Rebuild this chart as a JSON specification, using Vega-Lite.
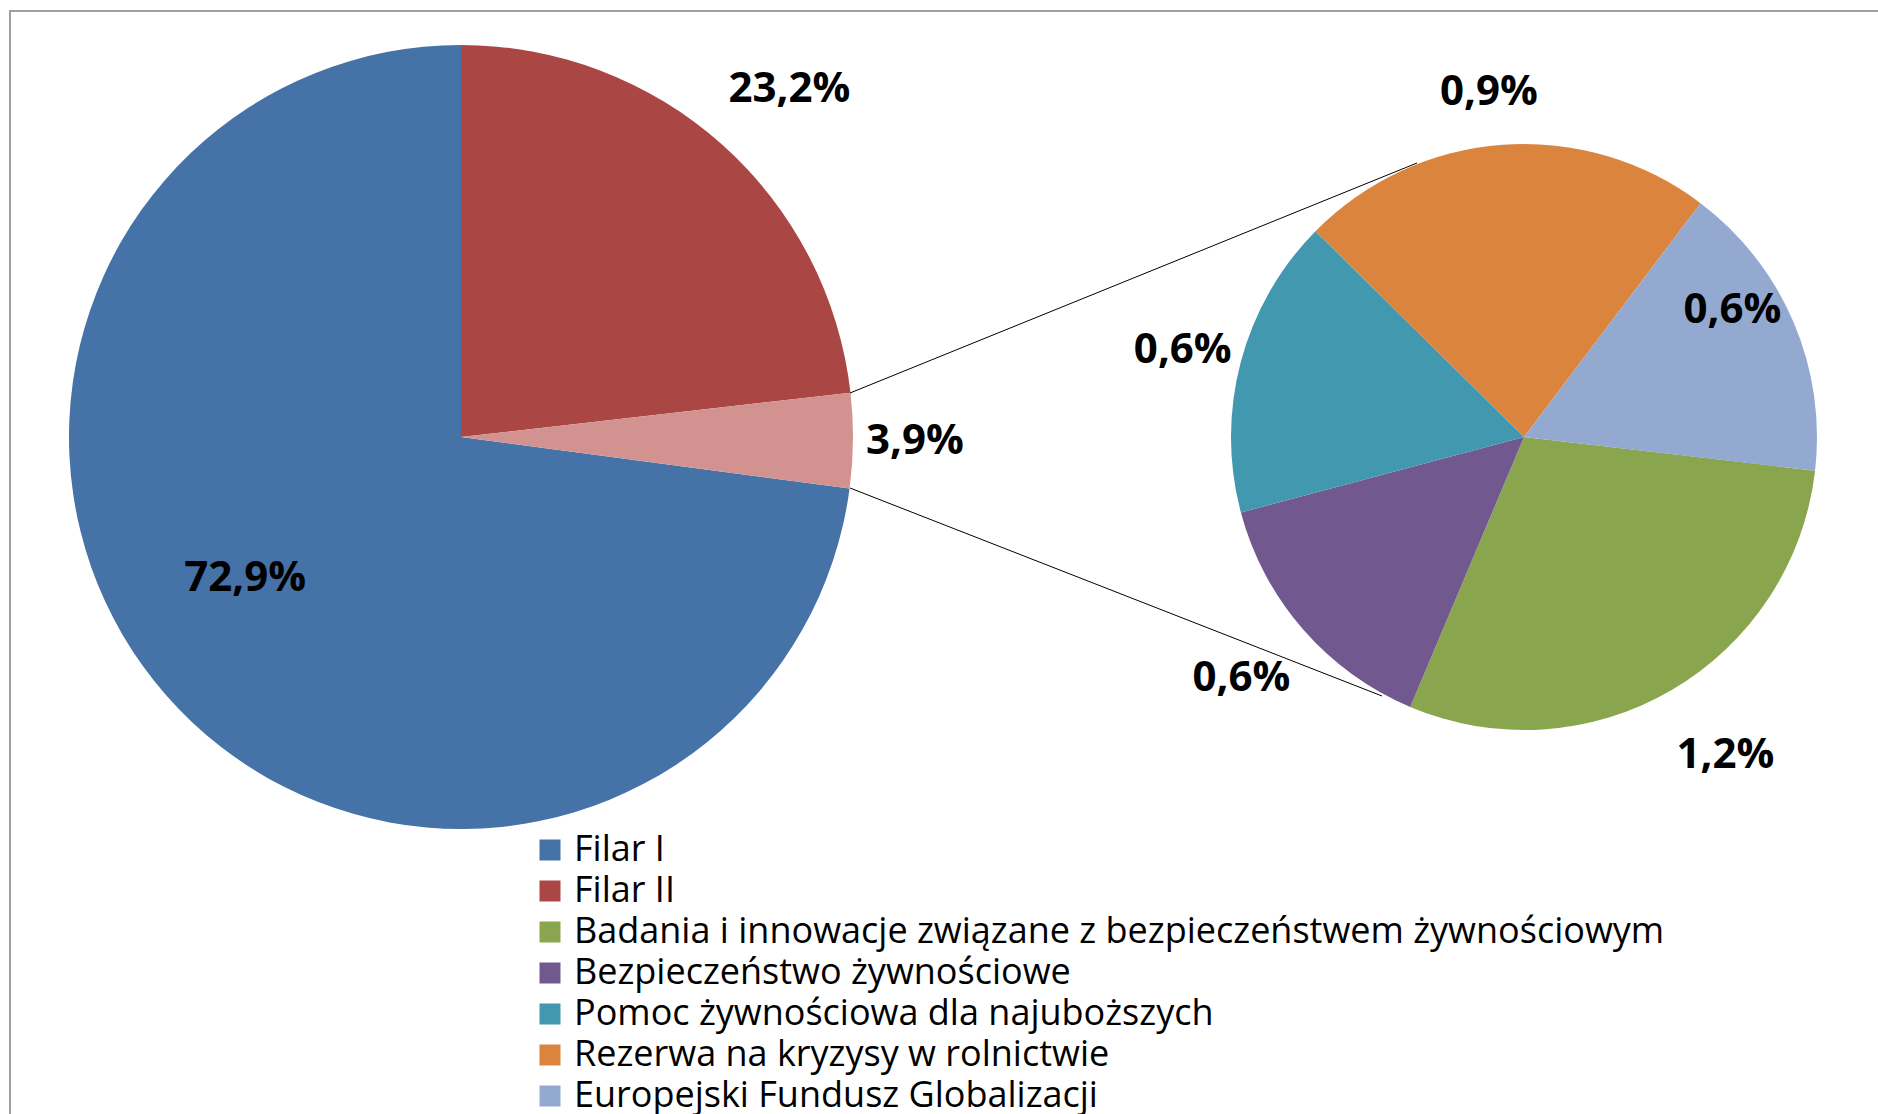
{
  "$schema": "https://vega.github.io/schema/vega-lite/v6.json",
  "width": 1872,
  "height": 1107,
  "autosize": {"type": "none"},
  "padding": {"left": 10, "top": 11, "right": -4, "bottom": -4},
  "background": "white",
  "config": {
    "view": {"stroke": "#a0a0a0", "strokeWidth": 2},
    "text": {"font": "Open Sans", "fontWeight": "bold", "fontSize": 42, "fill": "black"}
  },
  "datasets": {
    "udzialy": [
      {"wykres": "główny", "kategoria": "Filar I", "udzial": 72.9, "etykieta": "72,9%", "kolejnosc": 3},
      {"wykres": "główny", "kategoria": "Filar II", "udzial": 23.2, "etykieta": "23,2%", "kolejnosc": 1},
      {"wykres": "główny", "kategoria": "Pozostałe", "udzial": 3.9, "etykieta": "3,9%", "kolejnosc": 2},
      {"wykres": "pomocniczy", "kategoria": "Badania i innowacje związane z bezpieczeństwem żywnościowym", "udzial": 1.16, "etykieta": "1,2%", "kolejnosc": 1},
      {"wykres": "pomocniczy", "kategoria": "Bezpieczeństwo żywnościowe", "udzial": 0.57, "etykieta": "0,6%", "kolejnosc": 2},
      {"wykres": "pomocniczy", "kategoria": "Pomoc żywnościowa dla najuboższych", "udzial": 0.65, "etykieta": "0,6%", "kolejnosc": 3},
      {"wykres": "pomocniczy", "kategoria": "Rezerwa na kryzysy w rolnictwie", "udzial": 0.90, "etykieta": "0,9%", "kolejnosc": 4},
      {"wykres": "pomocniczy", "kategoria": "Europejski Fundusz Globalizacji", "udzial": 0.65, "etykieta": "0,6%", "kolejnosc": 5}
    ]
  },
  "layer": [
    {
      "data": {"name": "udzialy"},
      "encoding": {
        "x": {"field": "wykres", "type": "nominal", "scale": {"type": "point", "domain": ["główny", "pomocniczy"], "range": [451, 1514], "padding": 0}, "axis": null},
        "y": {"field": "wykres", "type": "nominal", "scale": {"type": "point", "domain": ["główny", "pomocniczy"], "range": [426, 426], "padding": 0}, "axis": null},
        "theta": {"field": "udzial", "type": "quantitative", "stack": true},
        "order": {"field": "kolejnosc", "type": "quantitative"}
      },
      "layer": [
        {
          "transform": [{"filter": "datum.wykres === 'główny'"}],
          "layer": [
            {
              "mark": {"type": "arc", "outerRadius": 392, "stroke": null},
              "encoding": {
                "color": {
                  "field": "kategoria", "type": "nominal",
                  "scale": {
                    "domain": ["Filar I", "Filar II", "Pozostałe", "Badania i innowacje związane z bezpieczeństwem żywnościowym", "Bezpieczeństwo żywnościowe", "Pomoc żywnościowa dla najuboższych", "Rezerwa na kryzysy w rolnictwie", "Europejski Fundusz Globalizacji"],
                    "range": ["#4572A7", "#AA4643", "#D29290", "#89A54E", "#71588F", "#4198AF", "#DB843D", "#93A9CF"]
                  },
                  "legend": {
                    "orient": "none", "legendX": 522, "legendY": 821, "title": null,
                    "values": ["Filar I", "Filar II", "Badania i innowacje związane z bezpieczeństwem żywnościowym", "Bezpieczeństwo żywnościowe", "Pomoc żywnościowa dla najuboższych", "Rezerwa na kryzysy w rolnictwie", "Europejski Fundusz Globalizacji"],
                    "symbolType": "square", "symbolSize": 441, "symbolStrokeWidth": 0,
                    "labelFont": "Open Sans", "labelFontSize": 36, "labelColor": "black",
                    "labelLimit": 1600, "labelOffset": 6, "rowPadding": 5, "padding": 0
                  }
                }
              }
            },
            {
              "mark": {"type": "text", "radius": 478, "dx": 10, "dy": 9},
              "encoding": {"detail": {"field": "kategoria"}, "text": {"condition": {"test": "datum.kategoria === 'Filar II'", "field": "etykieta", "type": "nominal"}, "value": ""}}
            },
            {
              "mark": {"type": "text", "radius": 454, "dx": 0, "dy": 0},
              "encoding": {"detail": {"field": "kategoria"}, "text": {"condition": {"test": "datum.kategoria === 'Pozostałe'", "field": "etykieta", "type": "nominal"}, "value": ""}}
            },
            {
              "mark": {"type": "text", "radius": 255, "dx": -24, "dy": -27},
              "encoding": {"detail": {"field": "kategoria"}, "text": {"condition": {"test": "datum.kategoria === 'Filar I'", "field": "etykieta", "type": "nominal"}, "value": ""}}
            }
          ]
        },
        {
          "transform": [{"filter": "datum.wykres === 'pomocniczy'"}],
          "layer": [
            {
              "mark": {"type": "arc", "outerRadius": 293, "stroke": null},
              "encoding": {
                "theta": {"field": "udzial", "type": "quantitative", "stack": true, "scale": {"range": [1.686, 7.9692]}},
                "color": {"field": "kategoria", "type": "nominal"}
              }
            },
            {
              "mark": {"type": "text", "radius": 376, "dx": 12, "dy": -7},
              "encoding": {"detail": {"field": "kategoria"}, "text": {"condition": {"test": "datum.kolejnosc === 1", "field": "etykieta", "type": "nominal"}, "value": ""}}
            },
            {
              "mark": {"type": "text", "radius": 372, "dx": -2, "dy": -3},
              "encoding": {"detail": {"field": "kategoria"}, "text": {"condition": {"test": "datum.kolejnosc === 2", "field": "etykieta", "type": "nominal"}, "value": ""}}
            },
            {
              "mark": {"type": "text", "radius": 353, "dx": 0, "dy": 3},
              "encoding": {"detail": {"field": "kategoria"}, "text": {"condition": {"test": "datum.kolejnosc === 3", "field": "etykieta", "type": "nominal"}, "value": ""}}
            },
            {
              "mark": {"type": "text", "radius": 347, "dx": -10, "dy": 1},
              "encoding": {"detail": {"field": "kategoria"}, "text": {"condition": {"test": "datum.kolejnosc === 4", "field": "etykieta", "type": "nominal"}, "value": ""}}
            },
            {
              "mark": {"type": "text", "radius": 242, "dx": -14, "dy": -32},
              "encoding": {"detail": {"field": "kategoria"}, "text": {"condition": {"test": "datum.kolejnosc === 5", "field": "etykieta", "type": "nominal"}, "value": ""}}
            }
          ]
        }
      ],
      "resolve": {"scale": {"theta": "independent"}}
    },
    {
      "data": {"values": [{}]},
      "layer": [
        {
          "mark": {"type": "rule", "color": "black", "strokeWidth": 1},
          "encoding": {
            "x": {"datum": 840, "type": "quantitative", "scale": {"domain": [0, 1872], "nice": false, "zero": false}, "axis": null},
            "y": {"datum": 382, "type": "quantitative", "scale": {"domain": [0, 1107], "nice": false, "zero": false, "reverse": true}, "axis": null},
            "x2": {"datum": 1407},
            "y2": {"datum": 152}
          }
        },
        {
          "mark": {"type": "rule", "color": "black", "strokeWidth": 1},
          "encoding": {
            "x": {"datum": 840, "type": "quantitative", "axis": null},
            "y": {"datum": 477, "type": "quantitative", "axis": null},
            "x2": {"datum": 1372},
            "y2": {"datum": 685}
          }
        }
      ]
    }
  ],
  "resolve": {"scale": {"x": "independent", "y": "independent"}}
}
